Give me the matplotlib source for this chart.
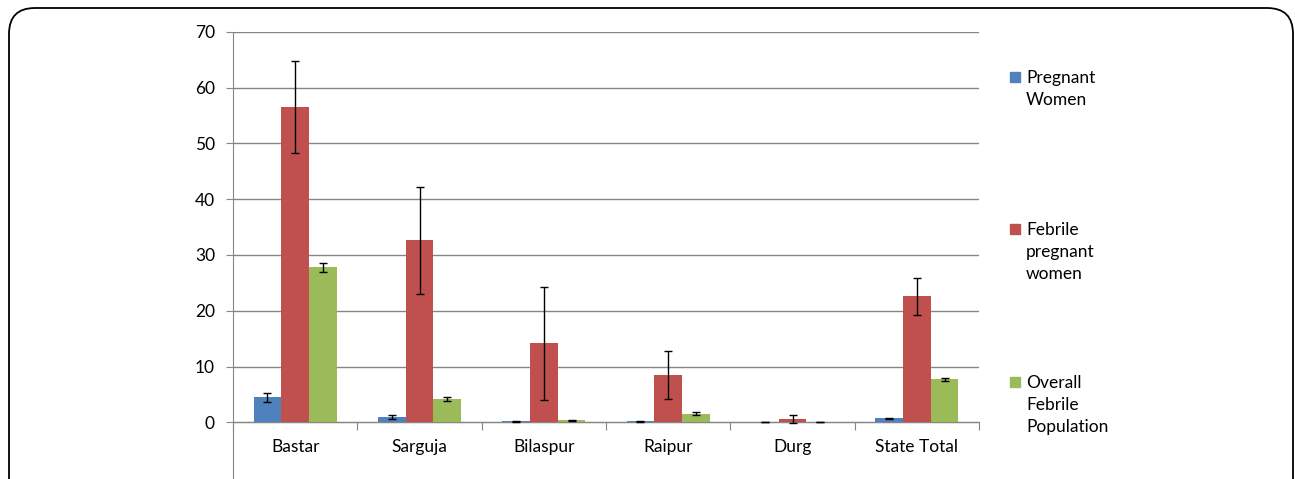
import matplotlib
matplotlib.use("Agg")
import matplotlib.pyplot as plt
from matplotlib.patches import FancyBboxPatch, Rectangle
import numpy as np

# -----------------------------------
# Data
# -----------------------------------
districts = ["Bastar", "Sarguja", "Bilaspur", "Raipur", "Durg", "State Total"]
series_names = ["Pregnant\nWomen", "Febrile\npregnant\nwomen", "Overall\nFebrile\nPopulation"]

pregnant = [4.5, 0.95, 0.2, 0.2, 0.03, 0.77]
pregnant_err = [0.8, 0.35, 0.1, 0.1, 0.03, 0.1]

febrile_pregnant = [56.5, 32.6, 14.2, 8.45, 0.65, 22.6]
febrile_pregnant_err = [8.2, 9.6, 10.1, 4.3, 0.75, 3.3]

overall_febrile = [27.8, 4.2, 0.35, 1.55, 0.1, 7.75]
overall_febrile_err = [0.8, 0.4, 0.1, 0.3, 0.03, 0.25]

colors = ["#4F81BD", "#C0504D", "#9BBB59"]
grid_col = "#868686"

plt.rcParams['font.family'] = ['Lato', 'DejaVu Sans']
FS = 12.5

fig = plt.figure(figsize=(12.95, 4.79), dpi=100)

# rounded frame around the chart
frame = FancyBboxPatch((9 / 1295, -0.2), (1293 - 9) / 1295, (1 - 8 / 479) + 0.2,
                       boxstyle="round,pad=0,rounding_size=0.02",
                       transform=fig.transFigure, facecolor="none",
                       edgecolor="black", linewidth=1.3, mutation_aspect=1295 / 479,
                       zorder=-1)
fig.patches.append(frame)

ax = fig.add_axes([233 / 1295, 0.0017, (979 - 233) / 1295, 0.932])
ax.set_facecolor("none")

x = np.arange(len(districts))
w = 0.223
values = [pregnant, febrile_pregnant, overall_febrile]
errors = [pregnant_err, febrile_pregnant_err, overall_febrile_err]
for k in range(3):
    ax.bar(x + (k - 1) * w, values[k], w, color=colors[k], zorder=3,
           yerr=errors[k], error_kw=dict(ecolor="black", elinewidth=1,
                                         capsize=3, capthick=1, zorder=4))

ax.set_xlim(-0.5, len(districts) - 0.5)
ax.set_ylim(-10, 70)

ax.set_yticks(range(0, 71, 10))
ax.yaxis.grid(True, color=grid_col, linewidth=1, zorder=0)
ax.set_axisbelow(True)
ax.tick_params(axis="y", length=5, color=grid_col, pad=8, labelsize=FS)

for s in ["top", "right"]:
    ax.spines[s].set_visible(False)
ax.spines["left"].set_color(grid_col)
ax.spines["bottom"].set_position(("data", 0))
ax.spines["bottom"].set_color(grid_col)

ax.set_xticks(np.arange(-0.5, len(districts), 1))
ax.set_xticklabels([])
ax.set_xticks(x, minor=True)
ax.set_xticklabels(districts, minor=True)
ax.tick_params(axis="x", which="major", length=6, color=grid_col, direction="out")
ax.tick_params(axis="x", which="minor", length=0, pad=12, labelsize=FS)

# legend
legend_y = [77, 229, 382]
for k in range(3):
    yf = 1 - legend_y[k] / 479
    fig.patches.append(Rectangle((1010 / 1295, yf - 5 / 479), 10 / 1295, 10 / 479,
                                 transform=fig.transFigure, color=colors[k]))
    fig.text(1026 / 1295, yf + 7 / 479, series_names[k], fontsize=FS,
             va="top", ha="left", linespacing=1.45)

fig.savefig("out.png", dpi=100)
